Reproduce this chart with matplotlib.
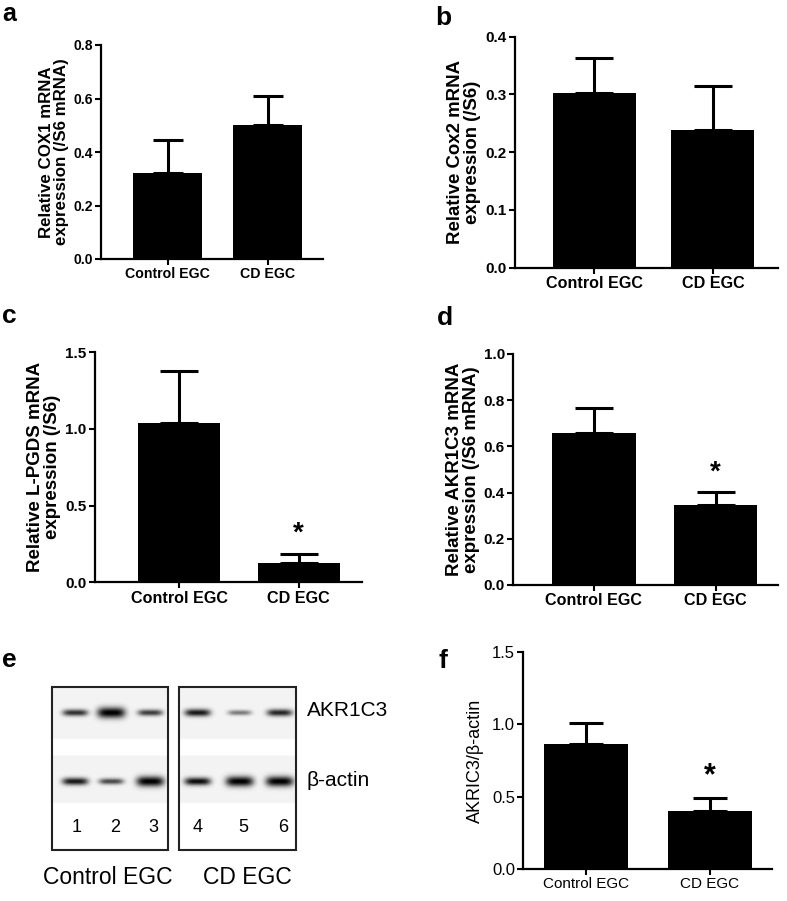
import numpy as np
import matplotlib
matplotlib.use('Agg')
import matplotlib.pyplot as plt

W, H = 787, 901
plt.rcParams['font.family'] = ['Liberation Sans', 'DejaVu Sans']

groups = ["Control EGC", "CD EGC"]

cox1_mean = [0.323, 0.501]
cox1_sem = [0.122, 0.109]
cox2_mean = [0.302, 0.238]
cox2_sem = [0.061, 0.077]
lpgds_mean = [1.04, 0.128]
lpgds_sem = [0.34, 0.057]
akr_mrna_mean = [0.659, 0.346]
akr_mrna_sem = [0.106, 0.055]
akr_prot_mean = [0.865, 0.400]
akr_prot_sem = [0.143, 0.090]

lane_labels = ["1", "2", "3", "4", "5", "6"]
akr_band = [0.55, 1.0, 0.5, 0.65, 0.25, 0.6]
actin_band = [0.65, 0.45, 0.95, 0.7, 0.95, 0.95]

fig = plt.figure(figsize=(W / 100, H / 100), dpi=100)


def rect(x0, x1, ytop, ybot):
    return [x0 / W, 1 - ybot / H, (x1 - x0) / W, (ybot - ytop) / H]


def bar_panel(r, means, sems, ylim, yticks, yfmt, xlim, width, capsize,
              ylabel, stars, bold=True, ticksize=10, xticksize=10, labelsize=10.5,
              labelpad=4, starsize=20, family=None):
    ax = fig.add_axes(r)
    x = np.arange(len(groups))
    ax.bar(x, means, width=width, color='black', zorder=2)
    ax.errorbar(x, means, yerr=[np.zeros(len(sems)), sems], fmt='none',
                ecolor='black', elinewidth=2.2, capsize=capsize, capthick=2.2,
                zorder=3)
    ax.set_xlim(*xlim)
    ax.set_ylim(*ylim)
    ax.set_yticks(yticks)
    ax.set_yticklabels([yfmt.format(v) for v in yticks])
    ax.set_xticks(x)
    ax.set_xticklabels(groups)
    w = 'bold' if bold else 'normal'
    fam = family if family else ['Liberation Sans', 'DejaVu Sans']
    for lab in ax.get_yticklabels():
        lab.set_fontsize(ticksize); lab.set_fontweight(w); lab.set_family(fam)
    for lab in ax.get_xticklabels():
        lab.set_fontsize(xticksize); lab.set_fontweight(w); lab.set_family(fam)
    ax.set_ylabel(ylabel, fontsize=labelsize, fontweight=w, family=fam,
                  linespacing=1.0, labelpad=labelpad)
    for s in ['top', 'right']:
        ax.spines[s].set_visible(False)
    for s in ['left', 'bottom']:
        ax.spines[s].set_linewidth(1.6)
    ax.tick_params(direction='out', length=4, width=1.5, pad=2)
    for i, st in enumerate(stars):
        if st:
            ax.annotate('*', (x[i], means[i] + sems[i]), xytext=(0, 5),
                        textcoords='offset points', ha='center', va='bottom',
                        fontsize=starsize, fontweight='bold')
    return ax


# a
bar_panel(rect(101, 323, 45, 259), cox1_mean, cox1_sem, (0, 0.8),
          [0, 0.2, 0.4, 0.6, 0.8], '{:.1f}', (-0.665, 1.555), 0.69, 10.5,
          'Relative COX1 mRNA\nexpression (/S6 mRNA)', [False, False],
          ticksize=10, xticksize=10.2, labelsize=12.2, labelpad=3)
# b
bar_panel(rect(515, 778, 36.7, 267.7), cox2_mean, cox2_sem, (0, 0.4),
          [0, 0.1, 0.2, 0.3, 0.4], '{:.1f}', (-0.671, 1.549), 0.70, 14,
          'Relative Cox2 mRNA\nexpression (/S6)', [False, False],
          ticksize=11, xticksize=11.6, labelsize=13.4, labelpad=3)
# c
bar_panel(rect(95, 362, 352.3, 582.3), lpgds_mean, lpgds_sem, (0, 1.5),
          [0, 0.5, 1.0, 1.5], '{:.1f}', (-0.703, 1.531), 0.686, 14,
          'Relative L-PGDS mRNA\nexpression (/S6)', [False, True],
          ticksize=11, xticksize=11.6, labelsize=13.5, labelpad=3)
# d
bar_panel(rect(513.3, 778, 354, 585), akr_mrna_mean, akr_mrna_sem, (0, 1.0),
          [0, 0.2, 0.4, 0.6, 0.8, 1.0], '{:.1f}', (-0.664, 1.514), 0.69, 14,
          'Relative AKR1C3 mRNA\nexpression (/S6 mRNA)', [False, True],
          ticksize=11, xticksize=11.6, labelsize=13.5, labelpad=3)
# f
bar_panel(rect(523.3, 771.7, 652.3, 868.7), akr_prot_mean, akr_prot_sem,
          (0, 1.5), [0, 0.5, 1.0, 1.5], '{:.1f}', (-0.508, 1.498), 0.68, 12,
          'AKRIC3/\u03b2-actin', [False, True], bold=False,
          ticksize=12, xticksize=11, labelsize=13, labelpad=6, starsize=22)

# e: western blot
axe = fig.add_axes(rect(0, 400, 600, 901))
axe.axis('off')
lane_x = [75, 111, 150, 198, 240, 280]
boxes = [(51.7, 168.3), (179.3, 296.0)]
by0, by1 = 687.3, 850.0
akr_y, act_y = 713.0, 781.7
for bi, (x0, x1) in enumerate(boxes):
    xs = np.arange(x0, x1, 0.5) + 0.25
    ys = np.arange(by0, by1, 0.5) + 0.25
    X, Y = np.meshgrid(xs, ys)
    img = np.ones_like(X)
    img[(Y > by0) & (Y < 739.3)] = 0.955
    img[(Y > 756) & (Y < 803.3)] = 0.955
    for li in range(3):
        k = bi * 3 + li
        cx = lane_x[k]
        for cy, inten in ((akr_y, akr_band[k]), (act_y, actin_band[k])):
            hw = 11 + 3 * inten
            hh = 2.4 + 3.0 * inten ** 2
            prof = np.exp(-(np.abs(X - cx) / hw) ** 4) * np.exp(-((Y - cy) / hh) ** 2)
            img -= 0.97 * min(1, inten + 0.25) * prof
    img = np.clip(img, 0, 1)
    axe.imshow(img, cmap='gray', vmin=0, vmax=1, extent=(x0, x1, by1, by0),
               interpolation='bilinear', aspect='auto', zorder=1)
    axe.add_patch(plt.Rectangle((x0, by0), x1 - x0, by1 - by0, fill=False,
                                edgecolor='#222222', lw=1.5, zorder=2))
axe.set_xlim(0, 400)
axe.set_ylim(901, 600)
num_x = [76.7, 115, 153, 198, 243, 283]
for k, lab in enumerate(lane_labels):
    axe.text(num_x[k], 828, lab, ha='center', va='center', fontsize=13)
axe.text(307, 711, 'AKR1C3', ha='left', va='center', fontsize=15)
axe.text(307, 781, '\u03b2-actin', ha='left', va='center', fontsize=15)
axe.text(108, 877, 'Control EGC', ha='center', va='center', fontsize=16.5)
axe.text(247, 877, 'CD EGC', ha='center', va='center', fontsize=16.5)

# panel letters
for lab, x, yb, fs in [('a', 2, 21, 18), ('b', 435, 25, 19), ('c', 2, 323, 19),
                       ('d', 437, 325, 19), ('e', 2, 667, 19), ('f', 438, 668, 19)]:
    fig.text(x / W, 1 - yb / H, lab, fontsize=fs, fontweight='bold',
             ha='left', va='baseline')

fig.savefig('out.png', dpi=100)
